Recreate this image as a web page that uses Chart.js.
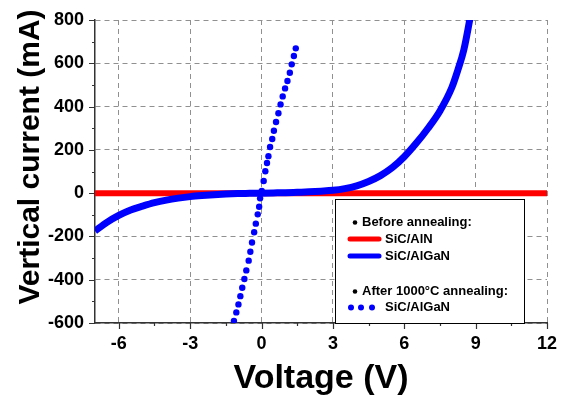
<!DOCTYPE html>
<html>
<head>
<meta charset="utf-8">
<script src="https://cdn.jsdelivr.net/npm/chart.js@4.4.1/dist/chart.umd.min.js"></script>
<style>
  body { margin: 0; background: #fff; }
  #wrap { width: 561px; height: 395px; }
</style>
</head>
<body>
<div id="wrap"><canvas id="myChart" width="561" height="395"></canvas></div>
<script>
// tick labels
const xTicks = [-6, -3, 0, 3, 6, 9, 12];
const yTicks = [-600, -400, -200, 0, 200, 400, 600, 800];

// before annealing, SiC/AlN (flat)
const alnV = [-7, 12];
const alnI = [0, 0];

// before annealing, SiC/AlGaN
const algV = [-7, -6.5, -6, -5.5, -5, -4.5, -4, -3.5, -3, -2.5, -2, -1.5, -1, -0.5, 0, 0.5, 1, 1.5, 2, 2.5, 3, 3.5, 4, 4.5, 5, 5.5, 6, 6.5, 7, 7.5, 8, 8.25, 8.5, 8.75, 8.9];
const algI = [-175, -135, -103, -78, -60, -44, -32, -23, -16, -11, -7, -4, -2, -1, 0, 1, 2, 4, 6, 9, 13, 21, 34, 54, 81, 118, 168, 230, 300, 380, 488, 568, 660, 800, 900];

// after 1000°C annealing, SiC/AlGaN
const annV = [1.44, 1.36, 1.27, 1.19, 1.09, 0.99, 0.89, 0.80, 0.71, 0.61, 0.52, 0.45, 0.36, 0.29, 0.23, 0.16, 0.09, 0.01, -0.06, -0.10, -0.16, -0.24, -0.31, -0.40, -0.47, -0.54, -0.64, -0.72, -0.81, -0.89, -0.97, -1.06, -1.16];
const annI = [669, 634, 595, 556, 518, 484, 447, 410, 369, 329, 288, 250, 213, 171, 139, 101, 56, 10, -24, -63, -98, -141, -181, -228, -271, -312, -357, -397, -437, -476, -514, -551, -590];

const FONT = "'Liberation Sans', Arial, sans-serif";

function pts(xs, ys) {
  return xs.map((v, i) => ({ x: v, y: ys[i] }));
}

// ticks (major + minor), axis titles and the boxed legend
const extras = {
  id: 'extras',
  afterDraw(chart) {
    const ctx = chart.ctx;
    const a = chart.chartArea;
    const xs = chart.scales.x, ys = chart.scales.y;
    ctx.save();
    ctx.strokeStyle = '#333';
    ctx.lineWidth = 1.2;
    ctx.beginPath();
    for (let v = -6; v <= 12; v += 1.5) {
      const px = Math.round(xs.getPixelForValue(v)) + 0.5;
      const len = (v % 3 === 0) ? 6 : 3;
      ctx.moveTo(px, a.bottom);
      ctx.lineTo(px, a.bottom + len);
    }
    for (let v = -600; v <= 800; v += 100) {
      const py = Math.round(ys.getPixelForValue(v)) + 0.5;
      const len = (v % 200 === 0) ? 6 : 3;
      ctx.moveTo(a.left, py);
      ctx.lineTo(a.left - len, py);
    }
    ctx.stroke();

    // axis titles
    ctx.fillStyle = '#000';
    ctx.font = 'bold 34px ' + FONT;
    ctx.textAlign = 'center';
    ctx.textBaseline = 'alphabetic';
    ctx.fillText('Voltage (V)', (a.left + a.right) / 2, 388);

    ctx.save();
    ctx.translate(39, 157);
    ctx.rotate(-Math.PI / 2);
    ctx.font = 'bold 30px ' + FONT;
    ctx.fillText('Vertical current (mA)', 0, 0);
    ctx.restore();

    // legend
    const L = 335, T = 199, R = 524;
    ctx.fillStyle = '#fff';
    ctx.fillRect(L, T, R - L, a.bottom - T);
    ctx.strokeStyle = '#000';
    ctx.lineWidth = 1;
    ctx.strokeRect(L + 0.5, T + 0.5, R - L, a.bottom - T);

    ctx.fillStyle = '#000';
    ctx.font = 'bold 13px ' + FONT;
    ctx.textAlign = 'left';
    ctx.textBaseline = 'middle';
    ctx.beginPath(); ctx.arc(355, 222.5, 2.3, 0, Math.PI * 2); ctx.fill();
    ctx.fillText('Before annealing:', 362, 222.5);

    ctx.lineCap = 'round';
    ctx.lineWidth = 5;
    ctx.strokeStyle = '#ff0000';
    ctx.beginPath(); ctx.moveTo(350, 239); ctx.lineTo(379, 239); ctx.stroke();
    ctx.strokeStyle = '#0000ff';
    ctx.beginPath(); ctx.moveTo(350, 256); ctx.lineTo(379, 256); ctx.stroke();
    ctx.fillText('SiC/AlN', 385, 239);
    ctx.fillText('SiC/AlGaN', 385, 256);

    ctx.beginPath(); ctx.arc(355, 291.5, 2.3, 0, Math.PI * 2); ctx.fill();
    ctx.fillText('After 1000\u00B0C annealing:', 362, 291.5);
    ctx.fillStyle = '#0000ff';
    [351, 361, 372].forEach(cx => {
      ctx.beginPath(); ctx.arc(cx, 307.5, 3, 0, Math.PI * 2); ctx.fill();
    });
    ctx.fillStyle = '#000';
    ctx.fillText('SiC/AlGaN', 385, 307.5);
    ctx.restore();
  }
};

const ctx = document.getElementById('myChart').getContext('2d');

const data = {
  datasets: [
    {
      label: 'SiC/AlN',
      data: pts(alnV, alnI),
      showLine: true,
      borderColor: '#ff0000',
      borderWidth: 6,
      pointRadius: 0,
      order: 3
    },
    {
      label: 'SiC/AlGaN',
      data: pts(algV, algI),
      showLine: true,
      borderColor: '#0000ff',
      borderWidth: 7,
      pointRadius: 0,
      cubicInterpolationMode: 'monotone',
      order: 2
    },
    {
      label: 'SiC/AlGaN annealed',
      data: pts(annV, annI),
      showLine: false,
      backgroundColor: '#0000ff',
      borderWidth: 0,
      pointRadius: 3.2,
      order: 1
    }
  ]
};

const config = {
  type: 'scatter',
  data: data,
  options: {
    responsive: false,
    animation: false,
    layout: { padding: { top: 20, right: 14, left: 0, bottom: 0 } },
    plugins: {
      legend: { display: false },
      tooltip: { enabled: false }
    },
    scales: {
      x: {
        type: 'linear',
        min: -7,
        max: 12,
        afterBuildTicks: (scale) => { scale.ticks = xTicks.map(v => ({ value: v })); },
        afterFit: (scale) => { scale.height = 72; scale.paddingRight = 0; scale.paddingLeft = 0; },
        ticks: {
          autoSkip: false,
          maxRotation: 0,
          padding: 10,
          color: '#000',
          font: { family: FONT, size: 18, weight: 'bold' }
        },
        grid: { color: '#909090', lineWidth: 1, drawTicks: false },
        border: { display: true, color: '#333', width: 1.5, dash: [5, 4] }
      },
      y: {
        type: 'linear',
        min: -600,
        max: 800,
        afterBuildTicks: (scale) => { scale.ticks = yTicks.map(v => ({ value: v })); },
        afterFit: (scale) => { scale.width = 95; scale.paddingTop = 0; scale.paddingBottom = 0; },
        ticks: {
          padding: 11,
          color: '#000',
          font: { family: FONT, size: 18, weight: 'bold' }
        },
        grid: { color: '#909090', lineWidth: 1, drawTicks: false },
        border: { display: true, color: '#333', width: 1.5, dash: [5, 4] }
      }
    }
  },
  plugins: [extras]
};

const myChart = new Chart(ctx, config);
</script>
</body>
</html>
